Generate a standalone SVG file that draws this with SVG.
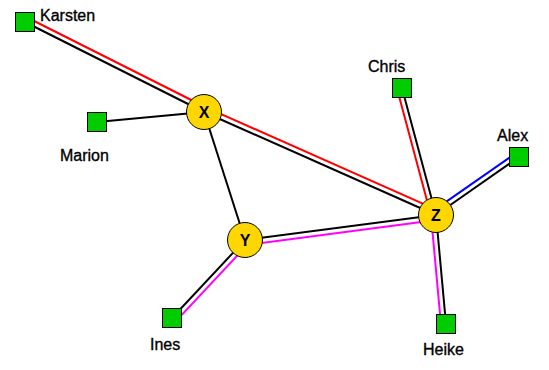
<svg xmlns="http://www.w3.org/2000/svg" width="549" height="370" viewBox="0 0 549 370">
<style>
.e{stroke:#000;stroke-width:2;fill:none}
.r{stroke:#ff0000;stroke-width:2;fill:none}
.m{stroke:#ff00ff;stroke-width:2;fill:none}
.b{stroke:#0000ff;stroke-width:2;fill:none}
.sq{fill:#00cc00;stroke:#000;stroke-width:1}
.ci{fill:#ffd700;stroke:#000;stroke-width:1}
.lb{font-family:"Liberation Sans",Arial,sans-serif;font-size:16px;fill:#000;stroke:#000;stroke-width:0.35}
.cl{font-family:"Liberation Sans",Arial,sans-serif;font-size:16px;font-weight:bold;fill:#000;text-anchor:middle}
</style>
<rect width="549" height="370" fill="#fff"/>
<g id="connectors">
<line class="r" x1="27.2" y1="17.5" x2="206.2" y2="107.5"/>
<line class="r" x1="206" y1="107.4" x2="438" y2="210.4"/>
<line class="r" x1="431.2" y1="216.3" x2="397.2" y2="89.3"/>
<line class="m" x1="441" y1="324.5" x2="431" y2="215.5"/>
<line class="m" x1="436.6" y1="220" x2="245.6" y2="245"/>
<line class="m" x1="248.7" y1="243.4" x2="175.7" y2="321.4"/>
<line class="b" x1="433.1" y1="210.9" x2="516.1" y2="152.9"/>
<line class="e" x1="25" y1="22" x2="204" y2="112"/>
<line class="e" x1="97" y1="122" x2="204" y2="112"/>
<line class="e" x1="204" y1="112" x2="436" y2="215"/>
<line class="e" x1="204" y1="112" x2="245" y2="240"/>
<line class="e" x1="245" y1="240" x2="436" y2="215"/>
<line class="e" x1="245" y1="240" x2="172" y2="318"/>
<line class="e" x1="436" y1="215" x2="402" y2="88"/>
<line class="e" x1="436" y1="215" x2="519" y2="157"/>
<line class="e" x1="436" y1="215" x2="446" y2="324"/>
</g>
<g id="karsten"><rect class="sq" x="15.5" y="12.5" width="19" height="19"/><text class="lb" x="40" y="21">Karsten</text></g>
<g id="marion"><rect class="sq" x="87.5" y="112.5" width="19" height="19"/><text class="lb" x="60" y="161">Marion</text></g>
<g id="chris"><rect class="sq" x="392.5" y="78.5" width="19" height="19"/><text class="lb" x="368" y="72">Chris</text></g>
<g id="alex"><rect class="sq" x="509.5" y="147.5" width="19" height="19"/><text class="lb" x="497" y="141">Alex</text></g>
<g id="ines"><rect class="sq" x="162.5" y="308.5" width="19" height="19"/><text class="lb" x="150" y="350">Ines</text></g>
<g id="heike"><rect class="sq" x="436.5" y="314.5" width="19" height="19"/><text class="lb" x="423" y="355">Heike</text></g>
<g id="x"><circle class="ci" cx="204" cy="112" r="17.5"/><text class="cl" x="204" y="118">X</text></g>
<g id="y"><circle class="ci" cx="245" cy="240" r="17.5"/><text class="cl" x="245" y="246">Y</text></g>
<g id="z"><circle class="ci" cx="436" cy="215" r="17.5"/><text class="cl" x="436" y="221">Z</text></g>
</svg>
